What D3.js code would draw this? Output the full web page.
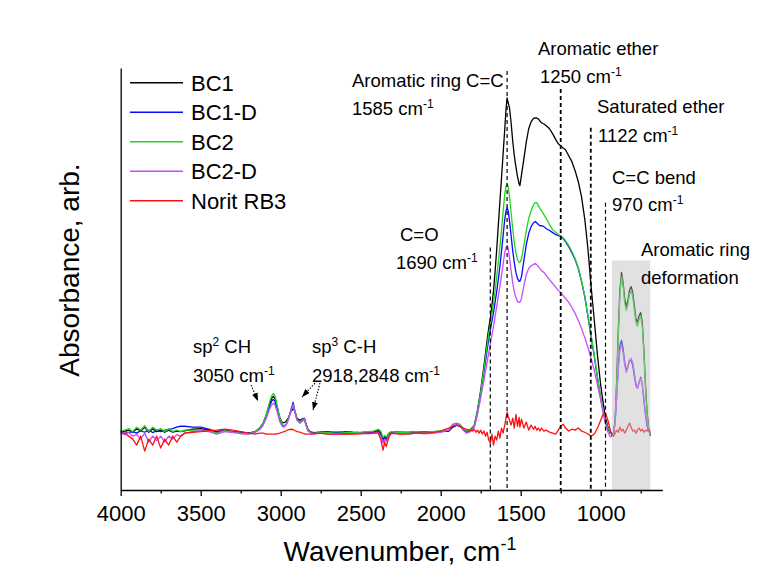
<!doctype html>
<html>
<head>
<meta charset="utf-8">
<title>FTIR spectra</title>
<script src="https://cdn.jsdelivr.net/npm/d3@7"></script>
<style>
  body { margin: 0; background: #fff; }
  svg { font-family: "Liberation Sans", Arial, sans-serif; }
</style>
</head>
<body>
<svg id="chart" width="761" height="577"></svg>
<script>
// wavenumber grid (cm-1), shared by every spectrum
const wavenumber = [
  4000, 3975, 3950, 3925, 3900, 3875, 3850, 3825, 3800, 3775, 3750, 3725, 3700, 3675, 3650, 3625, 3600,
  3550, 3500, 3450, 3400, 3350, 3300, 3250, 3200, 3160,
  3130, 3110, 3090, 3070, 3055, 3045, 3035, 3020, 3005, 2990, 2978, 2965, 2950, 2935, 2922, 2910, 2898, 2880, 2865, 2852, 2840, 2828, 2810, 2790, 2760,
  2700, 2650, 2600, 2550, 2500, 2450, 2420, 2390, 2375, 2360, 2350, 2340, 2325, 2310, 2280, 2250, 2200, 2150, 2100, 2050, 2000,
  1950, 1925, 1900, 1880, 1860, 1840, 1820, 1800,
  1790, 1780, 1770, 1760, 1750, 1740, 1730, 1720, 1710, 1700,
  1690, 1680, 1670, 1660, 1650, 1640, 1630, 1620, 1610, 1600,
  1592, 1585, 1578, 1570, 1560, 1550, 1540, 1530, 1520, 1510,
  1505, 1495, 1480, 1465, 1450, 1435, 1420, 1410, 1400, 1390,
  1380, 1370, 1355, 1340, 1320, 1300, 1280, 1265, 1250, 1235,
  1220, 1200, 1180, 1160, 1140, 1120, 1100, 1080, 1060, 1040,
  1020, 1000, 985, 970, 955, 940, 930, 920, 910, 900,
  890, 880, 870, 860, 850, 840, 830, 820, 810, 800,
  790, 780, 770, 760, 750, 740, 730, 720, 710, 700,
  690
];

const bc1 = [
  0.5, 0.7, 1, 0.3, 1.5, 0.7, 2, 0.3, 1.5, 0.5, 1, 0.3, 1, 0.3, 0.7, 0.5, 0.8,
  1.3, 1.5, 1, 0.3, 1, 0.5, 0.3, 0, 0.5,
  1.8, 3.3, 6, 9.7, 11.8, 12.3, 11.5, 8.3, 5, 3.5, 3.5, 4, 5.3, 7.3, 8.3, 7, 5, 4.3, 4.8, 5, 2.8, 1, 0.3, 0.2, 0.3,
  0.5, 0.3, 0.5, 0.3, 0.2, 0.3, 0.5, 0.8, 0, -2, -1, -1.8, -0.5, 0.2, 0.3, 0.3, 0.2, 0.3, 0.3, 0.2, 0.5,
  0.7, 2, 2.7, 2.3, 1.3, 0.7, 1, 2,
  2.7, 5, 7.7, 11, 14.3, 18.3, 22.3, 26.7, 31, 35,
  38.3, 42.5, 47.5, 54, 61.3, 69.3, 77.3, 85.3, 93.3, 101.3,
  108, 112, 110.3, 108.7, 103.7, 97.7, 92.7, 89, 85.7, 83.3,
  82.7, 86.3, 91.7, 97.3, 101.7, 104, 105.2, 105.3, 105.3, 105,
  104.3, 103.7, 103.3, 102.7, 101.7, 100, 98, 96.7, 96, 95.3,
  94.7, 92.7, 90.7, 87.7, 84, 79, 71.7, 61.7, 49, 37.7,
  26, 16, 10.3, 5, 2, 0.3, -0.3, 0, 4.3, 17.7,
  34.3, 47.7, 53.7, 50.3, 45, 42.3, 44.3, 47.7, 49, 47,
  42.7, 38.3, 37, 39.3, 40.3, 37, 27.7, 16, 7, 1.7,
  -1
];

const bc1d = [
  0.3, 0.5, 0.2, 0.5, 0, 0.8, 0.3, 1, 0.2, 0.8, 0.5, 1, 1.2, 1.5, 2, 2.3, 2.3,
  2, 2, 1.3, 0.5, 1, 0.5, 0.3, 0, 0.3,
  1.5, 3, 5.7, 9, 10.8, 11.3, 10.5, 7.5, 4.3, 2.7, 2.3, 3, 5, 8, 10.3, 7, 4.5, 3.5, 4.3, 4.8, 2.5, 0.8, 0.2, 0, 0.2,
  0.2, 0.3, 0.2, 0, 0.2, 0.3, 0.3, 0.5, -0.5, -3, -1.8, -2.5, -0.5, 0.2, 0.3, 0.2, 0.3, 0.5, 0.5, 0.3, 0.5,
  0.7, 2, 2.7, 2.3, 1.3, 0.3, 0.7, 1.7,
  2.3, 4.5, 7, 10, 13, 16.7, 20.3, 24, 27.7, 31.3,
  34.3, 37.3, 40.3, 43.7, 47.3, 51.3, 55.7, 60.7, 66, 71.3,
  74.3, 75.3, 74.3, 71, 66, 61, 57, 53.7, 51.7, 50.7,
  50.7, 52.3, 57.7, 63, 66.7, 69, 70.3, 70.7, 70.3, 69.7,
  69.3, 69.3, 69, 68.3, 67.7, 67, 66.3, 66, 65.7, 65,
  64, 62.3, 60.3, 58, 55, 50.7, 45.7, 39, 32.3, 25.7,
  18.3, 11.7, 7.3, 3.7, 1.3, 0, -0.3, 0, 3.7, 12.7,
  22.7, 29.3, 31, 28.3, 23.7, 21, 22.3, 24.3, 24.3, 22.7,
  19.3, 16, 15, 17, 18.7, 16, 11, 6, 2.3, 0.7,
  -0.3
];

const bc2 = [
  0.7, 1, 1.5, 0.5, 2, 1, 2.5, 0.5, 2, 1, 1.5, 0.5, 1.5, 0.5, 1, 0.5, 1,
  1, 1, 0.8, 0, 0.8, 0.3, 0, -0.2, 0.5,
  1.7, 3.3, 6.3, 10.3, 12.7, 13.3, 12.3, 8.7, 5, 3, 2.3, 3, 5, 7.7, 9, 7, 4.7, 3.3, 4, 4.3, 2.3, 0.7, 0, 0, 0.2,
  0.3, 0.5, 0.3, 0.2, 0.3, 0.5, 0.7, 1.3, 0.8, -1.5, -0.8, -1.3, 0, 0.5, 0.3, 0.3, 0.3, 0.5, 0.3, 0.5, 0.8,
  1, 2.7, 3.3, 3, 1.7, 0.7, 1, 2,
  2.5, 4.7, 7.3, 10.5, 13.7, 17.5, 21.3, 25.3, 29.3, 33,
  36.3, 39.7, 43.3, 47.7, 52.3, 57, 62.3, 68, 74, 79.7,
  82.3, 83.3, 82.3, 79, 73.7, 68.3, 63.7, 60.3, 58, 57,
  57, 58.3, 62.7, 67.7, 71.7, 74.3, 76.3, 77, 77, 76,
  75, 74.3, 73, 71.7, 69.7, 68, 67, 66.3, 66, 65.3,
  64.3, 62.7, 60.7, 58.3, 55.3, 51, 46, 39.3, 32.7, 26,
  18.7, 12, 7.7, 4, 1.7, 0.3, -0.7, -0.3, 3.5, 16,
  32.5, 46, 52.3, 49, 43.5, 41, 43, 46.3, 47.7, 45.5,
  41.3, 37, 35.7, 38, 39, 35.7, 26.3, 14.7, 6, 1.3,
  -1
];

const bc2d = [
  0, -0.5, 0.3, -1, -0.5, -2, 0, -3, -1, -2.5, -1, -3, -1, -2, -0.5, -1, 0,
  0.5, 0.8, 0.5, -0.3, 0.5, 0.3, -0.2, -0.3, 0.2,
  1.2, 2.6, 5, 8, 9.5, 10, 9.3, 6.7, 3.7, 2.2, 2, 2.8, 4.8, 7.7, 9.7, 6.7, 4.3, 3.5, 4.5, 5, 2.5, 0.7, 0, -0.2, 0,
  -0.3, -0.2, -0.3, -0.2, 0, -0.2, 0, 0.3, -1, -3.3, -2, -2.8, -0.8, -0.2, 0, -0.3, -0.2, 0, -0.2, 0, 0.3,
  1, 3, 3.3, 2.7, 1, 0, 0.3, 1.3,
  2, 4, 6.3, 9, 11.7, 14.7, 17.7, 20.7, 23.7, 26.7,
  29.7, 32.7, 35.7, 39, 42.3, 45.7, 49, 52.7, 56.3, 60.3,
  62, 62.7, 61.7, 58.7, 54.3, 50.3, 47.3, 45.3, 44, 43.7,
  43.7, 45, 49.3, 53, 55, 56, 56.3, 56.7, 56.3, 55.7,
  55, 54.3, 53.7, 52.7, 51.3, 50, 48.7, 47.7, 47, 46,
  45, 43.7, 42, 40, 37.7, 35, 32, 28.7, 25, 21,
  16, 11, 7, 3, 0.3, -1.3, -1, -0.3, 3.3, 11.7,
  21, 27.7, 29.3, 27, 22.7, 20.3, 22, 24.3, 25, 23.7,
  20.3, 16.7, 15, 17, 18.3, 16.3, 11.7, 6.7, 3, 1,
  -0.3
];

const noritRB3 = [
  0, 0, -1, -2, -4, -1, -6, -2, -4, -1, -5, -2, -4, -1, -3, -1, 0,
  0.3, 0.5, 0.8, 1, 1.3, 1, 0.5, 0, -0.3,
  0, 0, -0.3, -0.3, -0.3, -0.3, -0.3, -0.2, 0, 0.3, 0.5, 0.8, 1.2, 1.3, 1.2, 0.8, 0.5, 0.3, 0, -0.2, -0.3, -0.3, -0.3, -0.2, 0,
  -0.3, -0.3, -0.2, -0.3, -0.2, 0, 0, 0, -2, -5.7, -3, -4.5, -1.5, 0, -0.2, -0.3, -0.2, 0, 0, 0.2, 0.7,
  1.7, 2.3, 2.7, 2.3, 1.7, 1.3, 1, 0.7,
  1.3, 0.3, 1, 0, 1, -0.3, 0.7, -1, 0.3, -2.3,
  -3.3, -0.3, -4, -1, -2.3, 0.7, -1.7, 1.7, 0, 2.7,
  5, 7, 5.7, 4.3, 2.7, 5, 1.7, 6.3, 2.3, 5.3,
  2, 4.7, 1.7, 3.7, 1, 2.7, 1.3, 2.3, 1, 1.7,
  0.7, 1.7, 0.7, 1, 0.3, 0, -0.3, 1, 2.3, 3,
  1.7, 0.7, 1.3, 1, 1.7, 0.7, 0.3, -0.3, -1, -0.3,
  1.7, 4.3, 6.3, 6.7, 4.3, 1, -0.7, -1, 0, 1,
  0.3, 2, 0.7, 1.3, 0, 1, 2.3, 3.3, 2, 0.7,
  1, 0, 1, 1.7, 0.7, 1.3, 0.3, 1, 0.7, 1.3,
  0.3
];

const seriesNames = ["BC1", "BC1-D", "BC2", "BC2-D", "Norit RB3"];
const seriesValues = [bc1, bc1d, bc2, bc2d, noritRB3];
const seriesColors = ["#000000", "#0a0aff", "#22d322", "#c64cff", "#ff1010"];

const xTickValues = [4000, 3500, 3000, 2500, 2000, 1500, 1000];
const xMinorTickValues = [3750, 3250, 2750, 2250, 1750, 1250, 750];

// assigned bands: line position (cm-1) and how high the dashed marker reaches
const bandPositions = [1690, 1585, 1250, 1062, 970];
const bandTops = [62, 121, 115, 102, 77];
const deformationRange = [930, 690];
const deformationTop = 57.7;

seriesValues.forEach((s, k) => {
  if (s.length !== wavenumber.length) console.warn(seriesNames[k], s.length, wavenumber.length);
});

const svg = d3.select("#chart");

const x = d3.scaleLinear().domain([4000, 615]).range([120.7, 662.3]);
const y = d3.scaleLinear().domain([-19, 122]).range([490, 68]);

// spectra
const line = d3.line()
  .x((d, i) => x(wavenumber[i]))
  .y(d => y(d));

svg.append("g")
  .selectAll("path")
  .data(seriesValues)
  .join("path")
  .attr("d", d => line(d))
  .attr("fill", "none")
  .attr("stroke", (d, i) => seriesColors[i])
  .attr("stroke-width", 1.3)
  .attr("stroke-linejoin", "round");

// shaded deformation band (drawn over the traces)
svg.append("rect")
  .attr("x", x(deformationRange[0]))
  .attr("width", x(deformationRange[1]) - x(deformationRange[0]))
  .attr("y", y(deformationTop))
  .attr("height", y(-19) - y(deformationTop))
  .attr("fill", "#bdbdbd")
  .attr("opacity", 0.45);

// dashed band markers
svg.append("g")
  .selectAll("line")
  .data(bandPositions)
  .join("line")
  .attr("x1", d => x(d)).attr("x2", d => x(d))
  .attr("y1", (d, i) => y(bandTops[i]))
  .attr("y2", y(-19))
  .attr("stroke", "#000")
  .attr("stroke-width", (d, i) => (i === 2 || i === 3) ? 1.8 : 1.2)
  .attr("stroke-dasharray", "4,3");

// axes
const xAxis = d3.axisBottom(x)
  .tickValues(xTickValues)
  .tickSize(6)
  .tickSizeOuter(0)
  .tickPadding(9)
  .tickFormat(d3.format("d"));

const gx = svg.append("g")
  .attr("transform", `translate(0,${y(-19)})`)
  .call(xAxis);
gx.selectAll("text").attr("font-size", 22).attr("font-family", "Liberation Sans, Arial, sans-serif").attr("fill", "#000");
gx.select(".domain").attr("stroke-width", 1.3);
gx.selectAll(".tick line").attr("stroke-width", 1.3);

const gxMinor = svg.append("g")
  .attr("transform", `translate(0,${y(-19)})`)
  .call(d3.axisBottom(x).tickValues(xMinorTickValues).tickSize(3.5).tickSizeOuter(0).tickFormat(""));
gxMinor.select(".domain").remove();
gxMinor.selectAll(".tick line").attr("stroke-width", 1.3);

const gy = svg.append("g")
  .attr("transform", `translate(${x(4000)},0)`)
  .call(d3.axisLeft(y).tickValues([]).tickSizeOuter(0));
gy.select(".domain").attr("stroke-width", 1.3);

// axis titles
const xTitle = svg.append("text")
  .attr("x", 400).attr("y", 561)
  .attr("text-anchor", "middle")
  .attr("font-size", 28);
xTitle.append("tspan").text("Wavenumber, cm");
xTitle.append("tspan").attr("font-size", 18).attr("dy", -11).text("-1");

svg.append("text")
  .attr("transform", "translate(79,270) rotate(-90)")
  .attr("text-anchor", "middle")
  .attr("font-size", 28)
  .text("Absorbance, arb.");

// legend
const legend = svg.append("g");
seriesNames.forEach((name, i) => {
  const ly = 82.7 + i * 29.5;
  legend.append("line")
    .attr("x1", 130).attr("x2", 183)
    .attr("y1", ly).attr("y2", ly)
    .attr("stroke", seriesColors[i])
    .attr("stroke-width", 1.6);
  legend.append("text")
    .attr("x", 191).attr("y", ly + 8)
    .attr("font-size", 22)
    .text(name);
});

// annotations
function note(px, py, parts) {
  const t = svg.append("text").attr("x", px).attr("y", py).attr("font-size", 18.5);
  let raised = false;
  parts.forEach(p => {
    const sup = typeof p !== "string";
    const s = t.append("tspan").text(sup ? p.sup : p);
    if (sup && !raised) { s.attr("font-size", 12).attr("dy", -7); raised = true; }
    else if (!sup && raised) { s.attr("dy", 7); raised = false; }
  });
}

note(352, 87, ["Aromatic ring C=C"]);
note(352, 115, ["1585 cm", {sup: "-1"}]);
note(538, 55, ["Aromatic ether"]);
note(540, 83, ["1250 cm", {sup: "-1"}]);
note(597, 113, ["Saturated ether"]);
note(598, 142, ["1122 cm", {sup: "-1"}]);
note(612, 184, ["C=C bend"]);
note(612, 211, ["970 cm", {sup: "-1"}]);
note(641, 256, ["Aromatic ring"]);
note(641, 284, ["deformation"]);
note(400, 241, ["C=O"]);
note(396, 269, ["1690 cm", {sup: "-1"}]);
note(193, 353, ["sp", {sup: "2"}, " CH"]);
note(193, 382, ["3050 cm", {sup: "-1"}]);
note(312, 353, ["sp", {sup: "3"}, " C-H"]);
note(312, 382, ["2918,2848 cm", {sup: "-1"}]);

// dotted arrows to the C-H bands
svg.append("defs").append("marker")
  .attr("id", "head")
  .attr("viewBox", "0 0 8 6")
  .attr("refX", 8).attr("refY", 3)
  .attr("markerWidth", 8).attr("markerHeight", 6)
  .attr("markerUnits", "userSpaceOnUse")
  .attr("orient", "auto")
  .append("path").attr("d", "M0,0L8,3L0,6Z").attr("fill", "#000");

const arrows = [
  [251, 385, 258, 401],
  [317, 381, 302, 397],
  [320, 383, 313, 410]
];
svg.append("g")
  .selectAll("line")
  .data(arrows)
  .join("line")
  .attr("x1", d => d[0]).attr("y1", d => d[1])
  .attr("x2", d => d[2]).attr("y2", d => d[3])
  .attr("stroke", "#000")
  .attr("stroke-width", 1.1)
  .attr("stroke-dasharray", "1.5,1.5")
  .attr("marker-end", "url(#head)");
</script>
</body>
</html>
